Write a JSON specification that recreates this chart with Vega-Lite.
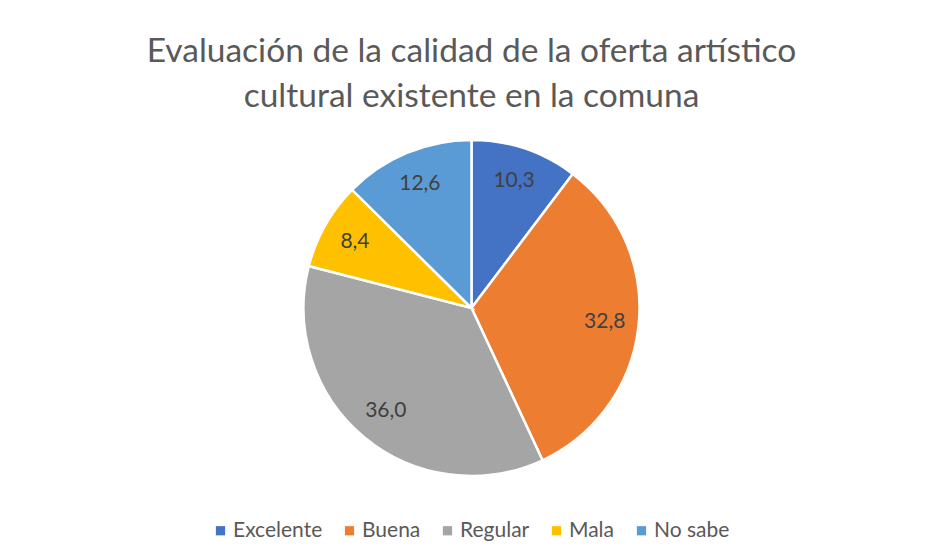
{
  "$schema": "https://vega.github.io/schema/vega-lite/v6.json",
  "width": 915,
  "height": 336,
  "autosize": {"type": "none"},
  "padding": {"left": 14, "right": 0, "top": 140, "bottom": 84},
  "background": "white",
  "title": {
    "text": ["Evaluación de la calidad de la oferta artístico", "cultural existente en la comuna"],
    "font": "Lato",
    "fontSize": 33.5,
    "fontWeight": "normal",
    "color": "#595959",
    "lineHeight": 45,
    "anchor": "middle",
    "offset": 21
  },
  "config": {
    "view": {"stroke": null},
    "locale": {"number": {"decimal": ",", "thousands": ".", "grouping": [3], "currency": ["", ""]}}
  },
  "data": {
    "values": [
      {"categoria": "Excelente", "valor": 10.3, "orden": 1},
      {"categoria": "Buena", "valor": 32.8, "orden": 2},
      {"categoria": "Regular", "valor": 36.0, "orden": 3},
      {"categoria": "Mala", "valor": 8.4, "orden": 4},
      {"categoria": "No sabe", "valor": 12.6, "orden": 5}
    ]
  },
  "encoding": {
    "theta": {"field": "valor", "type": "quantitative", "stack": true},
    "order": {"field": "orden", "type": "quantitative"}
  },
  "layer": [
    {
      "mark": {"type": "arc", "outerRadius": 168, "stroke": "white", "strokeWidth": 2.5},
      "encoding": {
        "color": {
          "field": "categoria",
          "type": "nominal",
          "scale": {
            "domain": ["Excelente", "Buena", "Regular", "Mala", "No sabe"],
            "range": ["#4472C4", "#ED7D31", "#A5A5A5", "#FFC000", "#5B9BD5"]
          },
          "legend": {
            "orient": "none",
            "legendX": 196,
            "legendY": 380,
            "direction": "horizontal",
            "columns": 5,
            "title": null,
            "symbolType": "square",
            "symbolSize": 85,
            "symbolStrokeWidth": 0,
            "labelFont": "Lato",
            "labelFontSize": 21,
            "labelColor": "#595959",
            "labelOffset": 2,
            "columnPadding": 16
          }
        }
      }
    },
    {
      "mark": {"type": "text", "radius": 134, "font": "Lato", "fontSize": 21, "fill": "#404040"},
      "encoding": {
        "detail": {"field": "categoria", "type": "nominal"},
        "text": {"field": "valor", "type": "quantitative", "format": ".1f"}
      }
    }
  ]
}
